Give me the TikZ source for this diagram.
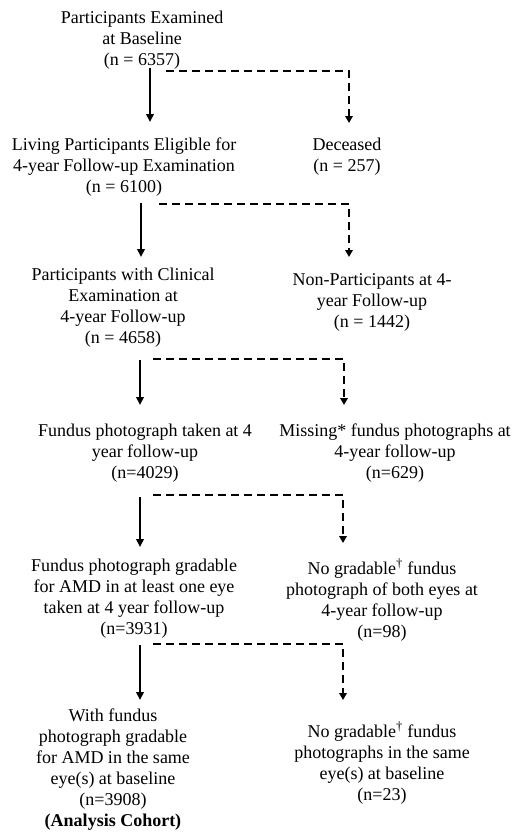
\documentclass[tikz,border=0pt]{standalone}
\usepackage{fontspec}
\setmainfont{Liberation Serif}
\usetikzlibrary{arrows.meta}
\begin{document}
\begin{tikzpicture}[x=1pt,y=-1pt,
  lbl/.style={align=center,font=\fontsize{18}{21}\selectfont,inner sep=0pt,text=black},
  solidarr/.style={line width=2.2pt,-{Triangle[width=7.5pt,length=8pt]}},
  dasharr/.style={line width=2pt,dash pattern=on 8pt off 5pt,-{Triangle[width=7.5pt,length=7pt]}}]
\useasboundingbox (0,0) rectangle (516,833);

% nodes
\node[lbl] (n1) at (142,40) {Participants Examined\\at Baseline\\(n = 6357)};
\node[lbl] (n2) at (124,167) {Living Participants Eligible for\\4-year Follow-up Examination\\(n = 6100)};
\node[lbl] (d1) at (347,157) {Deceased\\(n = 257)};
\node[lbl] (n3) at (123,308) {Participants with Clinical\\Examination at\\4-year Follow-up\\(n = 4658)};
\node[lbl] (d2) at (372,302) {Non-Participants at 4-\\year Follow-up\\(n = 1442)};
\node[lbl] (n4) at (145,453) {Fundus photograph taken at 4\\year follow-up\\(n=4029)};
\node[lbl] (d3) at (395,453) {Missing* fundus photographs at\\4-year follow-up\\(n=629)};
\node[lbl] (n5) at (134,599) {Fundus photograph gradable\\for AMD in at least one eye\\taken at 4 year follow-up\\(n=3931)};
\node[lbl] (d4) at (382,600) {No gradable\textsuperscript{†} fundus\\photograph of both eyes at\\4-year follow-up\\(n=98)};
\node[lbl] (n6) at (113,770) {With fundus\\photograph gradable\\for AMD in the same\\eye(s) at baseline\\(n=3908)\\\textbf{(Analysis Cohort)}};
\node[lbl] (d5) at (382,763) {No gradable\textsuperscript{†} fundus\\photographs in the same\\eye(s) at baseline\\(n=23)};

% connector end points
\coordinate (s1) at (150,68);  \coordinate (e1) at (150,122);
\coordinate (p1) at (166,71);  \coordinate (q1) at (349,123);
\coordinate (s2) at (141,203); \coordinate (e2) at (141,257);
\coordinate (p2) at (159,204); \coordinate (q2) at (349,257);
\coordinate (s3) at (140,360); \coordinate (e3) at (140,405);
\coordinate (p3) at (153,359); \coordinate (q3) at (344,405);
\coordinate (s4) at (140,497); \coordinate (e4) at (140,547);
\coordinate (p4) at (153,495); \coordinate (q4) at (343,543);
\coordinate (s5) at (140,645); \coordinate (e5) at (140,700);
\coordinate (p5) at (153,644); \coordinate (q5) at (343,700);

\draw[solidarr] (s1) -- (e1);
\draw[dasharr] (p1) -| (q1);
\draw[solidarr] (s2) -- (e2);
\draw[dasharr] (p2) -| (q2);
\draw[solidarr] (s3) -- (e3);
\draw[dasharr] (p3) -| (q3);
\draw[solidarr] (s4) -- (e4);
\draw[dasharr] (p4) -| (q4);
\draw[solidarr] (s5) -- (e5);
\draw[dasharr] (p5) -| (q5);
\end{tikzpicture}
\end{document}
